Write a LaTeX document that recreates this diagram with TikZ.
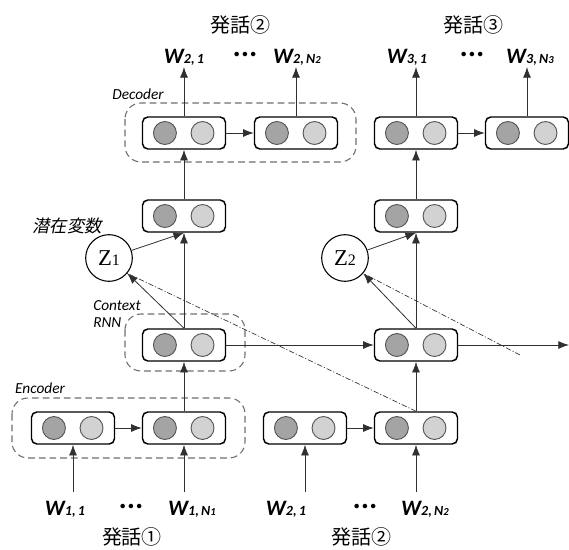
\documentclass[tikz,border=0pt]{standalone}
\usepackage{fontspec}
\setmainfont{Carlito}
\newfontfamily\jpfont{Noto Sans CJK JP}
\newfontfamily\jpslant[FakeSlant=0.2]{Noto Sans CJK JP}
\newfontfamily\zfont{Liberation Serif}
\usetikzlibrary{arrows.meta,calc}

\definecolor{darkcirc}{HTML}{A4A4A4}
\definecolor{lightcirc}{HTML}{D2D2D2}
\definecolor{circline}{HTML}{555555}
\definecolor{grouplin}{HTML}{6E6E6E}
\definecolor{linkcol}{HTML}{303030}

\tikzset{
  cellbox/.style={draw=black, line width=1.1pt, rounded corners=4pt, fill=white,
    minimum width=62.25pt, minimum height=24pt, inner sep=0pt},
  darkdot/.style={fill=darkcirc, draw=circline, line width=0.7pt},
  lightdot/.style={fill=lightcirc, draw=circline, line width=0.7pt},
  grp/.style={draw=grouplin, line width=0.8pt, dash pattern=on 5pt off 3pt, rounded corners=12pt},
  link/.style={draw=linkcol, line width=0.6pt, -{Latex[length=8pt,width=6pt]}},
  dashdot/.style={draw=linkcol, line width=0.5pt, dash pattern=on 4pt off 1.5pt on 0.8pt off 1.5pt},
  latent/.style={circle, draw=black, line width=0.8pt, minimum size=35pt, inner sep=0pt, fill=white},
  word/.style={font=\bfseries\itshape, inner sep=0pt},
  dots/.style={font=\bfseries\fontsize{8}{8}\selectfont, inner sep=0pt},
  grplabel/.style={font=\itshape\fontsize{11.5}{12}\selectfont, inner sep=0pt},
  utter/.style={font=\jpfont\fontsize{15}{16}\selectfont, inner sep=0pt},
}

% a hidden-state cell: rounded box with two unit circles
\newcommand\rnncell[3]{%
  \node[cellbox] (#1) at (#2,#3) {};
  \draw[darkdot] ([xshift=-14.3pt]#1.center) circle[radius=8.6pt];
  \draw[lightdot] ([xshift=13.9pt]#1.center) circle[radius=8.6pt];
}
% word label W_{i,j}
\newcommand\wlab[2]{{\fontsize{16.5}{16}\selectfont W}{\fontsize{10.5}{10}\selectfont #1,\,#2}}
\newcommand\wnum[1]{N{\fontsize{8}{8}\selectfont #1}}
\newcommand\threedots{•\hspace{2.2pt}•\hspace{2.2pt}•}

\begin{document}
\begin{tikzpicture}[x=0.75pt, y=-0.75pt]
\useasboundingbox (0,0) rectangle (569,550);

% dashed group outlines
\draw[grp] (125,103) rectangle (356,162);
\draw[grp] (125,314) rectangle (245,371);
\draw[grp] (12,398) rectangle (245,458);

% group labels
\node[grplabel] (declab) at (138,94) {Decoder};
\node[grplabel, align=left, anchor=west] (ctxlab) at (93,314) {Context\\[1pt]RNN};
\node[grplabel] (enclab) at (40,388) {Encoder};
\node[font=\jpslant\fontsize{13}{13}\selectfont, inner sep=0pt] (zlab) at (67,226) {潜在変数};

% decoder row
\rnncell{dA}{184}{133}
\rnncell{dB}{296}{133}
\rnncell{dC}{416}{133}
\rnncell{dD}{527}{133}
% latent-conditioned row
\rnncell{mA}{184}{216}
\rnncell{mB}{416}{216}
% context RNN row
\rnncell{cA}{184}{345}
\rnncell{cB}{416}{345}
% encoder row
\rnncell{eA}{73}{428}
\rnncell{eB}{184}{428}
\rnncell{eC}{305}{428}
\rnncell{eD}{416}{428}

% latent variables
\node[latent] (z1) at (109,258) {\zfont\fontsize{17}{17}\selectfont Z\fontsize{12}{12}\selectfont 1};
\node[latent] (z2) at (345,258) {\zfont\fontsize{17}{17}\selectfont Z\fontsize{12}{12}\selectfont 2};

% output words
\node[word] (o21) at (184,57) {\wlab{2}{1}};
\node[dots] (od1) at (245,55) {\threedots};
\node[word] (o2n) at (297,57) {\wlab{2}{\wnum{2}}};
\node[word] (o31) at (407,57) {\wlab{3}{1}};
\node[dots] (od2) at (472,55) {\threedots};
\node[word] (o3n) at (530,57) {\wlab{3}{\wnum{3}}};
\node[utter] (u2top) at (240,25) {発話②};
\node[utter] (u3top) at (473,25) {発話③};

% input words
\node[word] (i11) at (65,509) {\wlab{1}{1}};
\node[dots] (id1) at (131,507) {\threedots};
\node[word] (i1n) at (192,509) {\wlab{1}{\wnum{1}}};
\node[word] (i21) at (286,509) {\wlab{2}{1}};
\node[dots] (id2) at (365,507) {\threedots};
\node[word] (i2n) at (425,509) {\wlab{2}{\wnum{2}}};
\node[utter] (u1bot) at (132,537) {発話①};
\node[utter] (u2bot) at (361,537) {発話②};

% free ends of connectors
\coordinate (t1) at (184,67);
\coordinate (t2) at (296,67);
\coordinate (t3) at (416,67);
\coordinate (t4) at (527,67);
\coordinate (b1) at (73,492);
\coordinate (b2) at (184,492);
\coordinate (b3) at (305,492);
\coordinate (b4) at (416,492);
\coordinate (ctxout) at (569,345);
\coordinate (nextenc) at (520,355);

% outputs
\draw[link] (dA.north) -- (t1);
\draw[link] (dB.north) -- (t2);
\draw[link] (dC.north) -- (t3);
\draw[link] (dD.north) -- (t4);
% inputs
\draw[link] (b1) -- (eA.south);
\draw[link] (b2) -- (eB.south);
\draw[link] (b3) -- (eC.south);
\draw[link] (b4) -- (eD.south);
% recurrences
\draw[link] (dA.east) -- (dB.west);
\draw[link] (dC.east) -- (dD.west);
\draw[link] (eA.east) -- (eB.west);
\draw[link] (eC.east) -- (eD.west);
\draw[link] (cA.east) -- (cB.west);
\draw[link] (cB.east) -- (ctxout);
% vertical flow
\draw[link] (eB.north) -- (cA.south);
\draw[link] (eD.north) -- (cB.south);
\draw[link] (cA.north) -- (mA.south);
\draw[link] (cB.north) -- (mB.south);
\draw[link] (mA.north) -- (dA.south);
\draw[link] (mB.north) -- (dC.south);
% latent variables: prior from context, posterior from the next encoder
\draw[link] (z1) -- (mA.south);
\draw[link] (z2) -- (mB.south);
\draw[link] (cA.north) -- (z1.-40);
\draw[link] (cB.north) -- (z2.-40);
\draw[dashdot] (eD.north) -- (z1.-40);
\draw[dashdot] (nextenc) -- (z2.-40);
\end{tikzpicture}
\end{document}
